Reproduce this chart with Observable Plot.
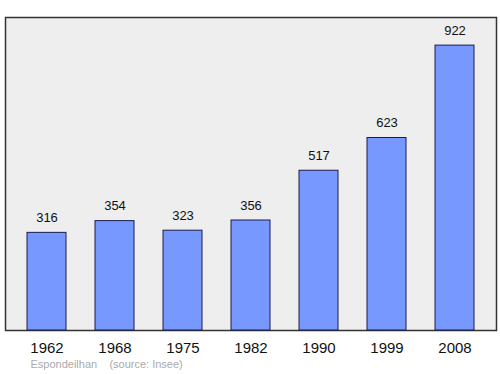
<!DOCTYPE html>
<html><head><meta charset="utf-8">
<script src="https://cdn.jsdelivr.net/npm/d3@7"></script>
<script src="https://cdn.jsdelivr.net/npm/@observablehq/plot@0.6"></script>
<style>body{margin:0;background:#fff;font-family:"Liberation Sans",Arial,sans-serif;}</style>
</head><body><div id="chart"></div>
<script>
const years = ["1962","1968","1975","1982","1990","1999","2008"];
const population = [316,354,323,356,517,623,922];
const caption = "Espondeilhan    (source: Insee)";
const data = years.map((y,i)=>({year:y, pop:population[i]}));
const chart = Plot.plot({
  width:500, height:374,
  marginLeft:5, marginRight:4, marginTop:17, marginBottom:44,
  style:{fontFamily:"Liberation Sans, Arial, sans-serif", background:"#fff"},
  x:{domain:years, paddingInner:0.43, paddingOuter:0.31, label:null},
  y:{domain:[0,1013], axis:null},
  marks:[
    Plot.frame({fill:"#eeeeee", stroke:"#333", strokeWidth:1.5}),
    Plot.barY(data,{x:"year", y:"pop", fill:"#7799ff", stroke:"#1a1a50", strokeWidth:1}),
    Plot.text(data,{x:"year", y:"pop", text:d=>String(d.pop), dy:-15, fontSize:13, fill:"#111"}),
    Plot.axisX({tickSize:0, tickPadding:12, fontSize:15, fill:"#111", label:null}),
    Plot.text([caption],{frameAnchor:"bottom-left", dx:25, dy:37, text:d=>d, fontSize:11, fill:"#aaa", textAnchor:"start"})
  ]
});
document.getElementById("chart").appendChild(chart);
</script></body></html>
